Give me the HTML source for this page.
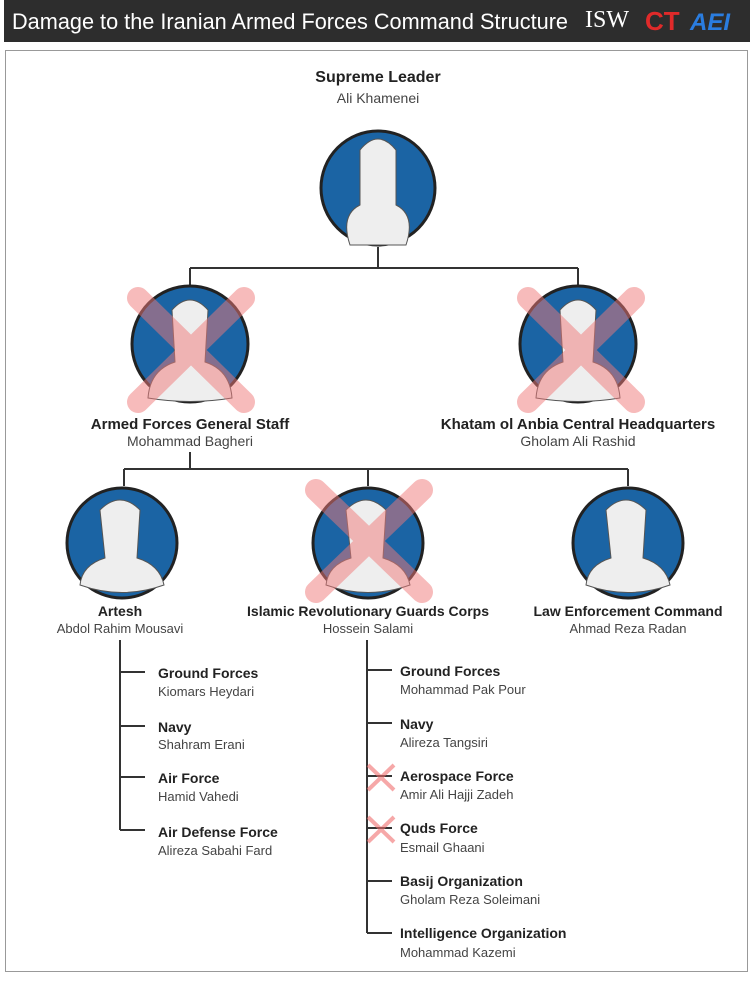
<!DOCTYPE html>
<html><head><meta charset="utf-8"><style>
body{margin:0;width:750px;height:976px;background:#fff;overflow:hidden;font-family:"Liberation Sans",sans-serif}
</style></head><body>
<svg width="750" height="976" viewBox="0 0 750 976" xmlns="http://www.w3.org/2000/svg" font-family="Liberation Sans, sans-serif">
<rect x="0" y="0" width="750" height="976" fill="#fff"/>
<rect x="4" y="0" width="746" height="42" fill="#2d2d2d"/>
<text x="12" y="29" fill="#fff" font-size="22" textLength="556" lengthAdjust="spacingAndGlyphs">Damage to the Iranian Armed Forces Command Structure</text>
<text x="585" y="27" fill="#fff" font-size="24" font-family="Liberation Serif, serif">ISW</text>
<text x="645" y="30" fill="#e02a2a" font-size="26" font-weight="bold">CT</text>
<text x="690" y="30" fill="#2a7de0" font-size="24" font-weight="bold" font-style="italic">AEI</text>
<rect x="5.5" y="50.5" width="742" height="921" fill="none" stroke="#999" stroke-width="1"/>
<g stroke="#333" stroke-width="2" fill="none">
<path d="M378 247V268M190 268H578M190 268V288M578 268V288"/>
<path d="M190 452V469M124 469H628M124 469V486M368 469V486M628 469V486"/>
<path d="M120 640V830M120 672H145M120 726H145M120 777H145M120 830H145"/>
<path d="M367 640V933M367 670H392M367 723H392M367 776H392M367 828H392M367 881H392M367 933H392"/>
</g>
<g stroke="#222" stroke-width="3" fill="#1b64a4">
<circle cx="378" cy="188" r="57"/>
<circle cx="190" cy="344" r="58"/>
<circle cx="578" cy="344" r="58"/>
<circle cx="122" cy="543" r="55"/>
<circle cx="368" cy="543" r="55"/>
<circle cx="628" cy="543" r="55"/>
</g>
<g fill="#eee" stroke="#555" stroke-width="1">
<path d="M350 245 Q340 215 360 205 L360 150 Q378 128 396 150 L396 205 Q416 215 406 245Z"/>
<path d="M148 398 Q150 370 175 362 L172 310 Q190 290 208 310 L205 362 Q230 370 232 398 Q190 405 148 398Z"/>
<path d="M536 398 Q538 370 563 362 L560 310 Q578 290 596 310 L593 362 Q618 370 620 398 Q578 405 536 398Z"/>
<path d="M80 585 Q82 565 105 558 L100 510 Q120 490 140 510 L137 558 Q160 565 164 585 Q122 600 80 585Z"/>
<path d="M326 585 Q328 565 351 558 L346 510 Q366 490 386 510 L383 558 Q406 565 410 585 Q368 600 326 585Z"/>
<path d="M586 585 Q588 565 611 558 L606 510 Q626 490 646 510 L643 558 Q666 565 670 585 Q628 600 586 585Z"/>
</g>
<g stroke="rgba(240,120,120,0.5)" stroke-width="22" stroke-linecap="round">
<path d="M138 298L244 402M244 298L138 402"/>
<path d="M528 298L634 402M634 298L528 402"/>
<path d="M316 490L422 592M422 490L316 592"/>
</g>
<g stroke="rgba(240,110,110,0.6)" stroke-width="4">
<path d="M368 765L394 790M394 765L368 790"/>
<path d="M368 817L394 842M394 817L368 842"/>
</g>
<g text-anchor="middle" fill="#222">
<text x="378" y="82" font-size="16" font-weight="bold">Supreme Leader</text>
<text x="378" y="103" font-size="14" fill="#444">Ali Khamenei</text>
<text x="190" y="429" font-size="15" font-weight="bold">Armed Forces General Staff</text>
<text x="190" y="446" font-size="14" fill="#444">Mohammad Bagheri</text>
<text x="578" y="429" font-size="15" font-weight="bold">Khatam ol Anbia Central Headquarters</text>
<text x="578" y="446" font-size="14" fill="#444">Gholam Ali Rashid</text>
<text x="120" y="616" font-size="14" font-weight="bold">Artesh</text>
<text x="120" y="633" font-size="13" fill="#444">Abdol Rahim Mousavi</text>
<text x="368" y="616" font-size="14" font-weight="bold">Islamic Revolutionary Guards Corps</text>
<text x="368" y="633" font-size="13" fill="#444">Hossein Salami</text>
<text x="628" y="616" font-size="14" font-weight="bold">Law Enforcement Command</text>
<text x="628" y="633" font-size="13" fill="#444">Ahmad Reza Radan</text>
</g>
<g fill="#222" font-size="14">
<g font-weight="bold">
<text x="158" y="678">Ground Forces</text>
<text x="158" y="732">Navy</text>
<text x="158" y="783">Air Force</text>
<text x="158" y="837">Air Defense Force</text>
<text x="400" y="676">Ground Forces</text>
<text x="400" y="729">Navy</text>
<text x="400" y="781">Aerospace Force</text>
<text x="400" y="833">Quds Force</text>
<text x="400" y="886">Basij Organization</text>
<text x="400" y="938">Intelligence Organization</text>
</g>
<g fill="#444" font-size="13">
<text x="158" y="696">Kiomars Heydari</text>
<text x="158" y="749">Shahram Erani</text>
<text x="158" y="801">Hamid Vahedi</text>
<text x="158" y="855">Alireza Sabahi Fard</text>
<text x="400" y="694">Mohammad Pak Pour</text>
<text x="400" y="747">Alireza Tangsiri</text>
<text x="400" y="799">Amir Ali Hajji Zadeh</text>
<text x="400" y="852">Esmail Ghaani</text>
<text x="400" y="904">Gholam Reza Soleimani</text>
<text x="400" y="957">Mohammad Kazemi</text>
</g>
</g>
</svg>
</body></html>
